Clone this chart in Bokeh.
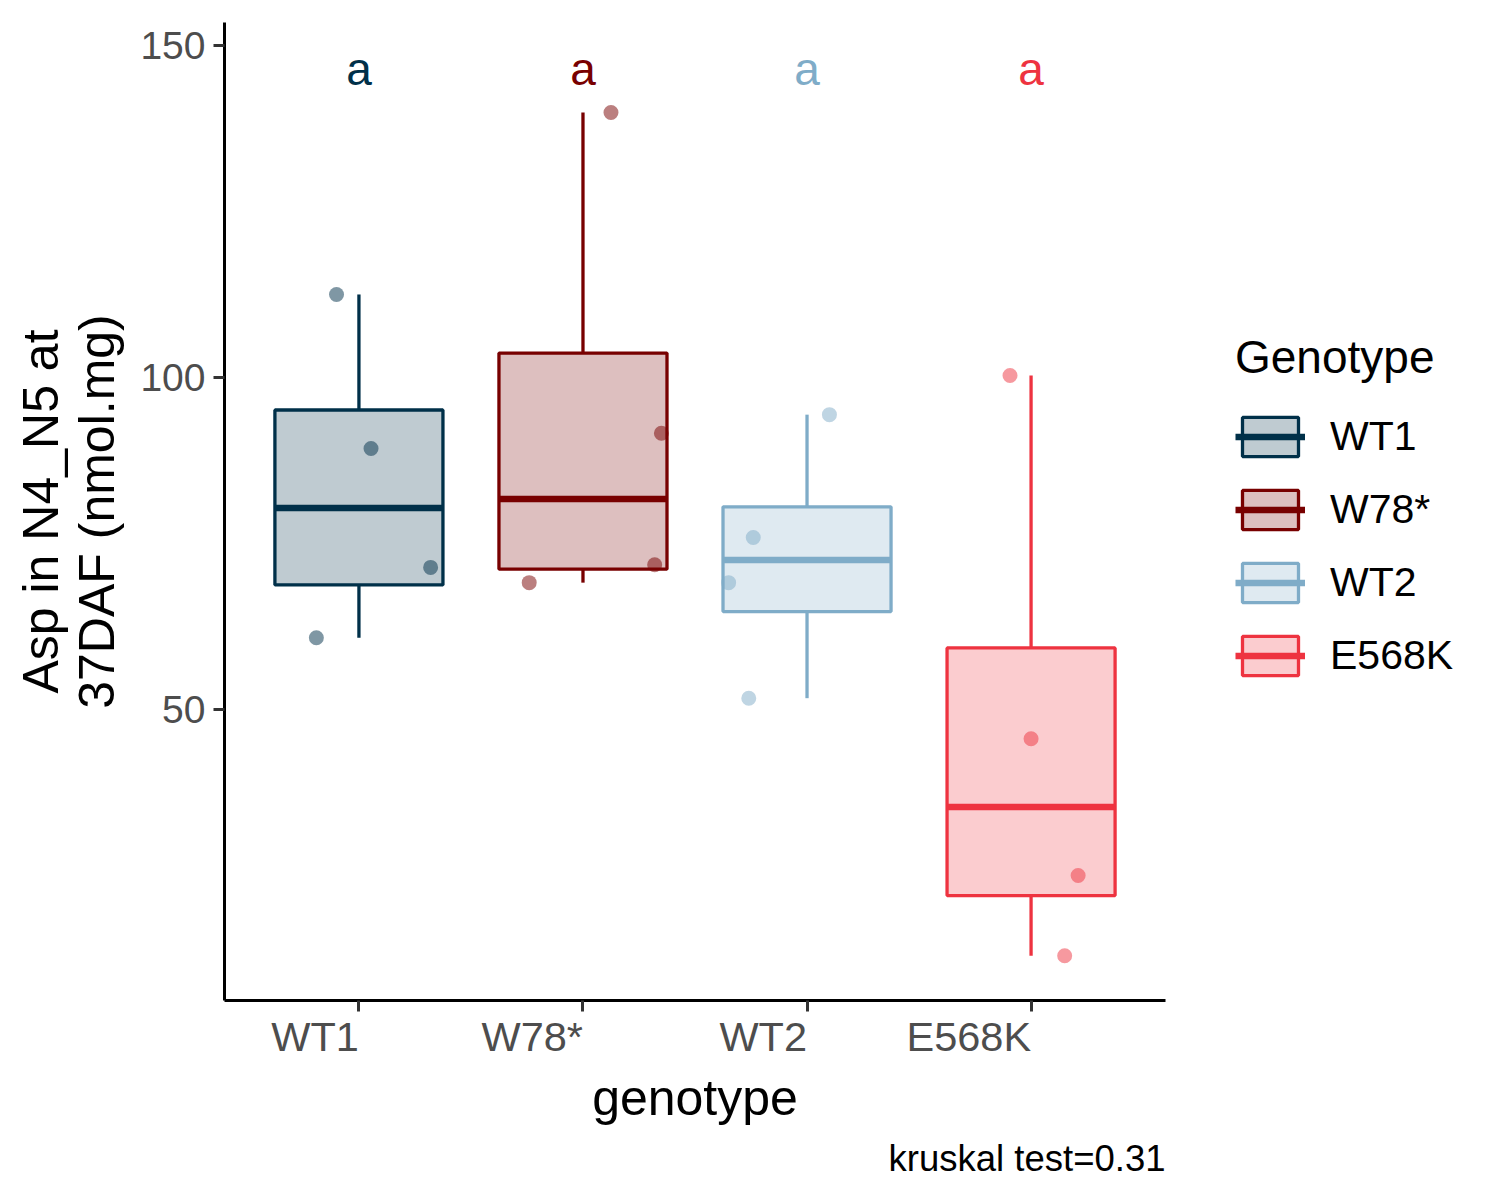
import numpy as np
from bokeh.plotting import figure
from bokeh.models import ColumnDataSource, Range1d, FixedTicker, Legend, LegendItem, Title
from bokeh.core.properties import value
from bokeh.embed import file_html
from bokeh.resources import INLINE

# ---------------- data ----------------
genotypes = ["WT1", "W78*", "WT2", "E568K"]
colors = ["#003049", "#780000", "#7FACC8", "#EE3340"]

wt1_vals = [112.5, 89.3, 71.4, 60.8]
w78_vals = [139.9, 91.6, 71.8, 69.1]
wt2_vals = [94.4, 75.9, 69.1, 51.7]
e568k_vals = [100.3, 45.6, 25.0, 12.9]

wt1_jitter = [-0.10, 0.054, 0.32, -0.19]
w78_jitter = [0.125, 0.35, 0.32, -0.24]
wt2_jitter = [0.10, -0.24, -0.35, -0.26]
e568k_jitter = [-0.094, 0.0, 0.21, 0.15]

letters = ["a", "a", "a", "a"]
letter_y = [146.5, 146.5, 146.5, 146.5]
y_ticks = [50, 100, 150]
caption = "kruskal test=0.31"
y_label = "Asp in N4_N5 at\n37DAF (nmol.mg)"
x_label = "genotype"
legend_title = "Genotype"

FONT = "Liberation Sans"
values_all = [wt1_vals, w78_vals, wt2_vals, e568k_vals]
jitter_all = [wt1_jitter, w78_jitter, wt2_jitter, e568k_jitter]
positions = [i + 1 for i in range(len(genotypes))]
half_w = 0.375

# box statistics
q1s, meds, q3s, lows, highs = [], [], [], [], []
for vals in values_all:
    v = np.array(vals)
    q1, med, q3 = np.percentile(v, [25, 50, 75])
    iqr = q3 - q1
    lo = v[v >= q1 - 1.5 * iqr].min()
    hi = v[v <= q3 + 1.5 * iqr].max()
    q1s.append(q1); meds.append(med); q3s.append(q3); lows.append(lo); highs.append(hi)

box_src = ColumnDataSource(dict(
    x=positions,
    left=[p - half_w for p in positions],
    right=[p + half_w for p in positions],
    q1=q1s, med=meds, q3=q3s, lo=lows, hi=highs,
    color=colors, name=genotypes,
))

pt_x, pt_y, pt_c = [], [], []
for pos, vals, jit, c in zip(positions, values_all, jitter_all, colors):
    for v, j in zip(vals, jit):
        pt_x.append(pos + j); pt_y.append(v); pt_c.append(c)
pt_src = ColumnDataSource(dict(x=pt_x, y=pt_y, color=pt_c))

txt_src = ColumnDataSource(dict(x=positions, y=letter_y, text=letters, color=colors))

# ---------------- figure ----------------
p = figure(
    frame_width=941, frame_height=978,
    min_border_left=224, min_border_right=327, min_border_top=22, min_border_bottom=192,
    x_range=Range1d(0.4, 4.6), y_range=Range1d(6.17, 153.46),
    output_backend="svg", toolbar_location=None,
)
p.outline_line_color = None
p.xgrid.visible = False
p.ygrid.visible = False
p.background_fill_color = "white"

upper = p.segment(x0="x", y0="q3", x1="x", y1="hi", source=box_src, line_color="color", line_width=3.3)
lower = p.segment(x0="x", y0="q1", x1="x", y1="lo", source=box_src, line_color="color", line_width=3.3)
boxes = p.quad(left="left", right="right", bottom="q1", top="q3", source=box_src,
               fill_color="color", fill_alpha=0.25, line_color="color", line_width=3.3)
medians = p.segment(x0="left", y0="med", x1="right", y1="med", source=box_src,
                    line_color="color", line_width=6.5)
p.scatter(x="x", y="y", source=pt_src, size=15, fill_color="color", fill_alpha=0.5, line_color=None)
p.text(x="x", y="y", text="text", source=txt_src, text_color="color", text_align="center",
       text_baseline="middle", text_font=value(FONT), text_font_size="46px")

# axes
for ax in (p.xaxis[0], p.yaxis[0]):
    ax.axis_line_color = "black"
    ax.axis_line_width = 3
    ax.major_tick_line_color = "#333333"
    ax.major_tick_line_width = 3
    ax.major_tick_out = 11
    ax.major_tick_in = 0
    ax.minor_tick_line_color = None
    ax.major_label_text_font = FONT
    ax.major_label_text_font_size = "39px"
    ax.major_label_text_color = "#4D4D4D"
    ax.axis_label_text_font = FONT
    ax.axis_label_text_font_size = "50px"
    ax.axis_label_text_font_style = "normal"
    ax.axis_label_text_color = "black"
    ax.axis_label_text_line_height = 1.0

p.xaxis.ticker = FixedTicker(ticks=positions)
p.xaxis.major_label_overrides = {pos: g for pos, g in zip(positions, genotypes)}
p.xaxis.major_label_orientation = 0.0001
p.xaxis.major_label_text_font_size = "41.5px"
p.xaxis.major_label_standoff = 25
p.xaxis.axis_label = x_label
p.xaxis.axis_label_standoff = -17

p.yaxis.ticker = FixedTicker(ticks=y_ticks)
p.yaxis.major_label_standoff = 8
p.yaxis.axis_label = y_label
p.yaxis.axis_label_standoff = 12

# legend
items = [LegendItem(label=g, renderers=[boxes, medians], index=i) for i, g in enumerate(genotypes)]
legend = Legend(items=items, title=legend_title, location=(70, 320),
                glyph_width=70, glyph_height=49, label_standoff=25, spacing=24,
                padding=0, margin=0, border_line_color=None, background_fill_alpha=0,
                label_text_font=FONT, label_text_font_size="41px", label_text_color="black",
                title_text_font=FONT, title_text_font_size="46px", title_text_font_style="normal",
                title_text_color="black", title_standoff=28, label_height=40)
p.add_layout(legend, "right")

p.add_layout(Title(text=caption, align="right", text_font=FONT, text_font_size="36.5px",
                   text_font_style="normal", text_color="black", standoff=15), "below")

open("out.html", "w").write(file_html(p, INLINE))
